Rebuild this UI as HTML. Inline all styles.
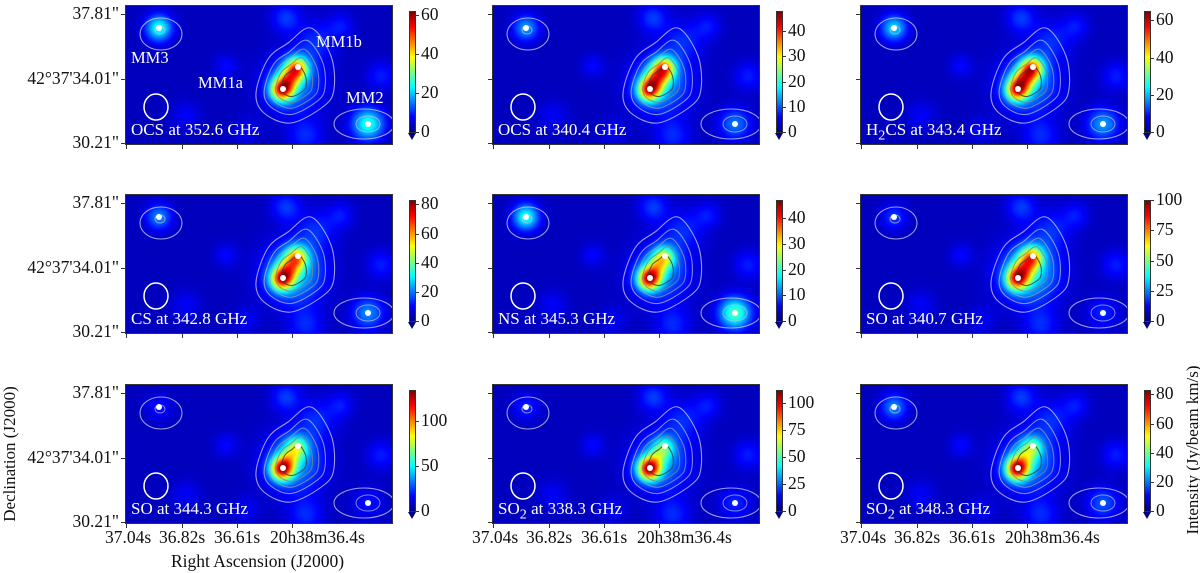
<!DOCTYPE html>
<html><head><meta charset="utf-8">
<style>
body{margin:0;background:#fff;width:1200px;height:573px;overflow:hidden;position:relative;font-family:"Liberation Serif",serif;}
.pn{position:absolute;width:268px;height:140px;border:1px solid #333;box-sizing:border-box;overflow:hidden;}
.pn canvas{position:absolute;left:0;top:0;width:268px;height:140px;}
.pn svg{position:absolute;left:0;top:0;}
.t{position:absolute;font-size:17.5px;color:#111;white-space:nowrap;font-family:"Liberation Serif",serif;}
.cb{position:absolute;width:7px;height:122px;border:1px solid #333;box-sizing:border-box;background:linear-gradient(to top,#000080 0%,#0000ff 12.5%,#00ffff 37.5%,#ffff00 62.5%,#ff0000 87.5%,#800000 100%);}
.tri{position:absolute;width:0;height:0;border-left:4px solid transparent;border-right:4px solid transparent;border-top:7px solid #000080;}
.tk{position:absolute;background:#333;}
</style></head><body>
<div id="root"></div>
<div class="t" style="left:-70px;top:444px;transform:rotate(-90deg);font-size:17px;width:160px;text-align:center;">Declination (J2000)</div>
<div class="t" style="left:171px;top:551px;font-size:17.5px;">Right Ascension (J2000)</div>
<div class="t" style="left:1083px;top:440px;transform:rotate(-90deg);font-size:17px;width:220px;text-align:center;">Intensity (Jy/beam km/s)</div>
<script>
// panel data
const titles=["OCS at 352.6 GHz","OCS at 340.4 GHz","H<sub>2</sub>CS at 343.4 GHz","CS at 342.8 GHz","NS at 345.3 GHz","SO at 340.7 GHz","SO at 344.3 GHz","SO<sub>2</sub> at 338.3 GHz","SO<sub>2</sub> at 348.3 GHz"];
const vmax=[62,48,65,83,47,100,135,112,83];
const cbTicks=[[0,20,40,60],[0,10,20,30,40],[0,20,40,60],[0,20,40,60,80],[0,10,20,30,40],[0,25,50,75,100],[0,50,100],[0,25,50,75,100],[0,20,40,60,80]];
const ampA=[0.9,0.9,0.85,0.85,1.0,0.95,1.0,1.0,1.0];
const ampB=[0.75,0.8,0.8,0.6,0.55,0.75,0.45,0.35,0.4];
const ampEnv=[0.25,0.3,0.28,0.35,0.25,0.45,0.3,0.25,0.28];
const ampMM3=[0.35,0.22,0.28,0.2,0.35,0.12,0.08,0.1,0.2];
const ampMM2=[0.35,0.18,0.22,0.2,0.4,0.1,0.08,0.1,0.15];
const xTickLabels=["37.04s","36.82s","36.61s","20h38m36.4s"];
const yTickLabels=['37.81"','42°37\'34.01"','30.21"'];
const colX=[125,492,860], rowY=[5,194,384];
const W=268,H=140;
const noise=[[160,12,10,0.12],[100,60,8,0.07],[60,110,10,0.06],[255,70,10,0.09],[215,20,9,0.08],[180,130,12,0.1],[120,125,9,0.06],[190,35,14,0.1]];
function jet(v){const c=x=>Math.max(0,Math.min(1,x));return [c(1.5-Math.abs(4*v-3)),c(1.5-Math.abs(4*v-2)),c(1.5-Math.abs(4*v-1))].map(x=>Math.round(x*255));}
function g(x,y,cx,cy,s){const d=(x-cx)**2+(y-cy)**2;return Math.exp(-d/(2*s*s));}
function smooth(pts){let d='';const n=pts.length;for(let i=0;i<n;i++){const p0=pts[(i-1+n)%n],p1=pts[i],p2=pts[(i+1)%n],p3=pts[(i+2)%n];if(i==0)d+=`M${p1[0]},${p1[1]}`;d+=`C${p1[0]+(p2[0]-p0[0])/6},${p1[1]+(p2[1]-p0[1])/6} ${p2[0]-(p3[0]-p1[0])/6},${p2[1]-(p3[1]-p1[1])/6} ${p2[0]},${p2[1]}`;}return d+'Z';}
const outer=[[185,22],[205,50],[208,83],[198,100],[165,117],[138,107],[130,87],[142,53],[162,37]];
const root=document.getElementById('root');
for(let i=0;i<9;i++){
  const c=i%3,r=Math.floor(i/3),L=colX[c],T=rowY[r];
  const p=document.createElement('div');p.className='pn';p.style.left=L+'px';p.style.top=T+'px';
  
  
  const cv=document.createElement('canvas');cv.width=134;cv.height=70;
  
  
  const ctx=cv.getContext('2d');const im=ctx.createImageData(134,70);
  const F=[];let mx=0;
  for(let y=0;y<70;y++)for(let x=0;x<134;x++){
    const X=x*2+1,Y=y*2+1;
    let v=ampA[i]*g(X,Y,156,84,8)+ampB[i]*g(X,Y,171,62,8)+0.6*Math.min(ampA[i],ampB[i])*g(X,Y,163,73,8);
    v+=ampEnv[i]*g(X,Y,168,78,20);
    F.push(v);if(v>mx)mx=v;}
  let k0=0;
  for(let y=0;y<70;y++)for(let x=0;x<134;x++){
    const X=x*2+1,Y=y*2+1;
    let v=0.06+F[k0++]/mx*0.97;
    v+=ampMM3[i]*g(X,Y,33,22,9)+ampMM2[i]*g(X,Y,242,118,11);
    for(const n of noise)v+=n[3]*g(X,Y,n[0],n[1],n[2]);
    v=Math.min(1,v);const col=jet(v);const k=(y*134+x)*4;
    im.data[k]=col[0];im.data[k+1]=col[1];im.data[k+2]=col[2];im.data[k+3]=255;}
  ctx.putImageData(im,0,0);p.appendChild(cv);
  let s=`<svg width="268" height="140" viewBox="0 0 268 140">`;
  const sc=[1,0.78,0.62,0.47,0.32],cols=['rgba(210,210,235,0.75)','rgba(190,190,215,0.7)','rgba(160,160,185,0.7)','rgba(130,130,140,0.75)','rgba(60,60,60,0.8)'];
  sc.forEach((f,j)=>{const pts=outer.map(q=>[170+(q[0]-170)*f+(1-f)*(-3),72+(q[1]-72)*f+(1-f)*6]);s+=`<path d="${smooth(pts)}" fill="none" stroke="${cols[j]}" stroke-width="1.1"/>`;});
  s+=`<ellipse cx="35" cy="28" rx="21" ry="16" fill="none" stroke="rgba(210,210,235,0.75)" stroke-width="1.1"/><ellipse cx="34" cy="24" rx="5" ry="4" fill="none" stroke="rgba(190,190,215,0.7)" stroke-width="1"/>`;
  s+=`<ellipse cx="238" cy="118" rx="30" ry="15" fill="none" stroke="rgba(210,210,235,0.75)" stroke-width="1.1"/><ellipse cx="242" cy="118" rx="12" ry="8" fill="none" stroke="rgba(190,190,215,0.7)" stroke-width="1"/>`;
  s+=`<ellipse cx="30" cy="101" rx="12" ry="13" fill="none" stroke="#fff" stroke-width="1.5"/>`;
  [[33,22],[157,83],[172,61],[242,118]].forEach(q=>s+=`<circle cx="${q[0]}" cy="${q[1]}" r="3" fill="#fff"/>`);
  s+=`</svg>`;
  p.insertAdjacentHTML('beforeend',s);
  p.insertAdjacentHTML('beforeend',`<div class="t" style="left:5px;top:114px;color:#fff;font-size:17px">${titles[i]}</div>`);
  if(i==0){[['MM3',5,42],['MM1a',72,67],['MM1b',190,26],['MM2',220,82]].forEach(m=>p.insertAdjacentHTML('beforeend',`<div class="t" style="left:${m[1]}px;top:${m[2]}px;color:#fff;font-size:16.5px">${m[0]}</div>`));}
  root.appendChild(p);
  const cb=document.createElement('div');cb.className='cb';cb.style.left=(L+284)+'px';cb.style.top=(T+6)+'px';
  
  
  root.appendChild(cb);
  const tr=document.createElement('div');tr.className='tri';tr.style.left=(L+283)+'px';tr.style.top=(T+128)+'px';root.appendChild(tr);
  cbTicks[i].forEach(t=>{const y=T+6+121-121*t/vmax[i];
    const tk=document.createElement('div');tk.className='tk';tk.style.cssText=`left:${L+291}px;top:${y}px;width:3px;height:1px`;root.appendChild(tk);
    const lb=document.createElement('div');lb.className='t';lb.textContent=t;lb.style.left=(L+296)+'px';lb.style.top=(y-11)+'px';
    
    
    root.appendChild(lb);});
  [9,74,138].forEach((dy,j)=>{const tk=document.createElement('div');tk.className='tk';tk.style.cssText=`left:${L-4}px;top:${T+dy}px;width:4px;height:1px`;root.appendChild(tk);
    if(c==0){const lb=document.createElement('div');lb.className='t';lb.textContent=yTickLabels[j];lb.style.cssText=`right:${1200-L+6}px;top:${T+dy-11}px`;
      
      
      root.appendChild(lb);}});
  const xl=[-20,34,89,145];
  [1,57,112,167].forEach((dx,j)=>{const tk=document.createElement('div');tk.className='tk';tk.style.cssText=`left:${L+dx}px;top:${T+140}px;width:1px;height:4px`;root.appendChild(tk);
    if(r==2){const lb=document.createElement('div');lb.className='t';lb.textContent=xTickLabels[j];lb.style.cssText=`left:${L+xl[j]}px;top:${T+143}px`;
      
      
      root.appendChild(lb);}});
}
</script>
</body></html>
